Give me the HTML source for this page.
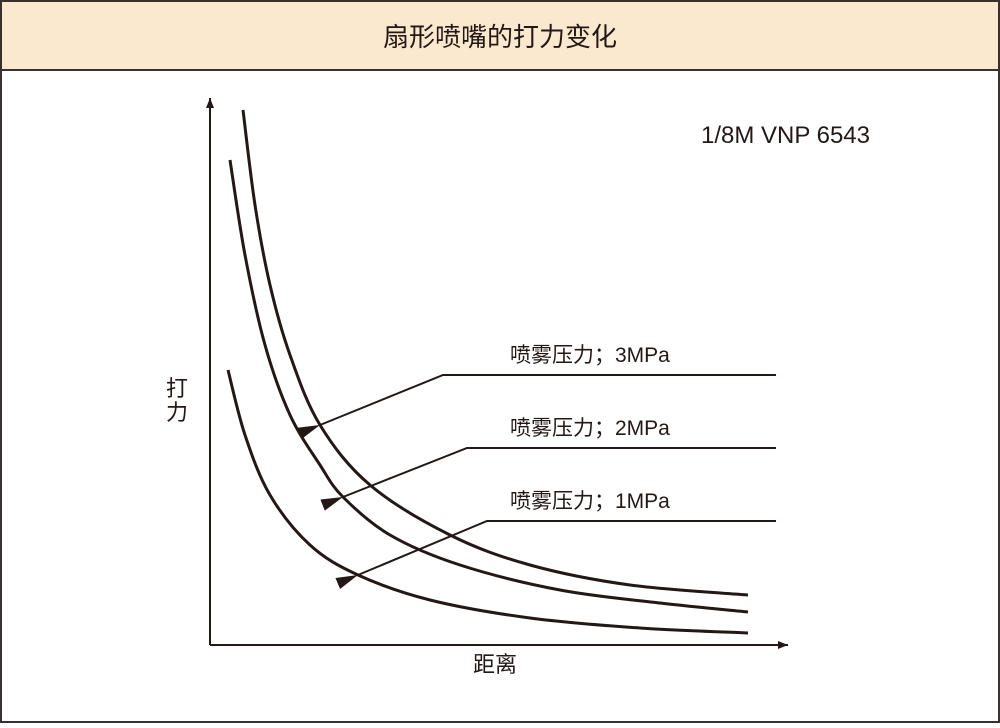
<!DOCTYPE html>
<html><head><meta charset="utf-8"><style>
body{margin:0;width:1000px;height:723px;overflow:hidden;background:#fff;font-family:"Liberation Sans","Noto Sans CJK SC",sans-serif}
</style></head><body>
<svg width="1000" height="723">
<defs><marker id="ah" markerWidth="10" markerHeight="8" refX="10" refY="4" orient="auto" markerUnits="userSpaceOnUse" viewBox="0 0 10 8"><path d="M0,0 L10,4 L0,8 z" fill="#231815"/></marker>
<marker id="ah2" markerWidth="22" markerHeight="12" refX="0" refY="6" orient="auto-start-reverse" markerUnits="userSpaceOnUse" viewBox="0 0 22 12"><path d="M0,6 L22,0 L22,12 z" fill="#231815"/></marker></defs>
<rect x="1" y="1" width="998" height="721" fill="#fff" stroke="#3a3030" stroke-width="2"/>
<rect x="1" y="1" width="998" height="69" fill="#fbe9cf" stroke="#3a3030" stroke-width="2"/>
<text x="500" y="46" text-anchor="middle" font-size="26" fill="#231815">扇形喷嘴的打力变化</text>
<text x="870" y="143" text-anchor="end" font-size="24" fill="#231815">1/8M  VNP  6543</text>
<line x1="210" y1="645" x2="210" y2="98" stroke="#231815" stroke-width="2" marker-end="url(#ah)"/>
<line x1="210" y1="645" x2="788" y2="645" stroke="#231815" stroke-width="2" marker-end="url(#ah)"/>
<text x="177" y="396" text-anchor="middle" font-size="22" fill="#231815">打</text>
<text x="177" y="420" text-anchor="middle" font-size="22" fill="#231815">力</text>
<text x="495" y="672" text-anchor="middle" font-size="22" fill="#231815">距离</text>
<g id="plot"></g>
</svg>
<script>
const seriesNames=["喷雾压力；3MPa","喷雾压力；2MPa","喷雾压力；1MPa"];
const s3x=[33,45,60,80,110,160,240,320,420,538];
const s3y=[535,440,360,290,220,160,110,80,60,50];
const s2x=[20,35,55,80,110,133,180,250,350,450,538];
const s2y=[485,390,300,230,180,148,110,80,55,42,33];
const s1x=[18,35,60,100,148,220,320,430,538];
const s1y=[275,210,150,100,70,45,27,17,12];
const arrowAt=[110,133,148];
const X=v=>210+v, Y=v=>645-v;
const xs=[s3x,s2x,s1x], ys=[s3y,s2y,s1y];
const elbows=[[443,375],[467,448],[487,521]];
const g=document.getElementById('plot');
const NS='http://www.w3.org/2000/svg';
function path(px,py){const p=px.map((x,i)=>[X(x),Y(py[i])]);let d='M'+p[0];
for(let i=0;i<p.length-1;i++){const p0=p[i-1]||p[i],p1=p[i],p2=p[i+1],p3=p[i+2]||p2;
d+=' C'+(p1[0]+(p2[0]-p0[0])/6)+','+(p1[1]+(p2[1]-p0[1])/6)+' '+(p2[0]-(p3[0]-p1[0])/6)+','+(p2[1]-(p3[1]-p1[1])/6)+' '+p2;}return d;}
xs.forEach((sx,k)=>{
const c=document.createElementNS(NS,'path');
c.setAttribute('d',path(sx,ys[k]));c.setAttribute('fill','none');c.setAttribute('stroke','#231815');c.setAttribute('stroke-width','3');


g.appendChild(c);
const i=sx.indexOf(arrowAt[k]);const tx=X(sx[i]),ty=Y(ys[k][i]);const e=elbows[k];
const l=document.createElementNS(NS,'polyline');
l.setAttribute('points',tx+','+ty+' '+e[0]+','+e[1]+' 776,'+e[1]);l.setAttribute('fill','none');l.setAttribute('stroke','#231815');l.setAttribute('stroke-width','2');l.setAttribute('marker-start','url(#ah2)');


g.appendChild(l);
const t=document.createElementNS(NS,'text');
t.setAttribute('x',510);t.setAttribute('y',e[1]-13);t.setAttribute('font-size','21');t.setAttribute('fill','#231815');t.textContent=seriesNames[k];


g.appendChild(t);
});
</script>
</body></html>
